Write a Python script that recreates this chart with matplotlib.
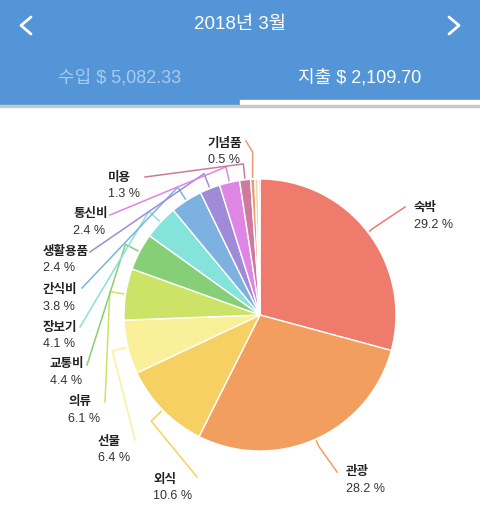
import matplotlib
matplotlib.use('Agg')
import matplotlib.pyplot as plt
import numpy as np

plt.rcParams['font.family'] = ['Liberation Sans', 'Noto Sans CJK KR', 'DejaVu Sans']

# data
title = '2018년 3월'
income_label = '수입 $ 5,082.33'
expense_label = '지출 $ 2,109.70'
categories = ['숙박', '관광', '외식', '선물', '의류', '교통비', '장보기', '간식비',
              '생활용품', '통신비', '미용', '기념품', '', '']
shares = [29.2, 28.2, 10.6, 6.4, 6.1, 4.4, 4.1, 3.8, 2.4, 2.4, 1.3, 0.5, 0.4, 0.2]
colors = ['#EF7B6C', '#F19E5E', '#F6D062', '#FAF09A', '#CCE367', '#87CF76',
          '#84E3DA', '#7DB2E0', '#A08BD8', '#DE86E3', '#CD7A9E', '#E99A74',
          '#F6D2B4', '#F0A060']

# layout (pixels): name text anchor, line end, side
label_pos = {
    '숙박': (414, 208, 405, 207, 'l'),
    '관광': (346, 472, 337, 472, 'l'),
    '외식': (153, 479, 197, 477, 'r'),
    '선물': (98, 441, 135, 440, 'r'),
    '의류': (68, 402, 105, 402, 'r'),
    '교통비': (50, 364, 87, 365, 'r'),
    '장보기': (43, 327, 80, 327, 'r'),
    '간식비': (43, 290, 82, 288, 'r'),
    '생활용품': (43, 251, 90, 252, 'r'),
    '통신비': (73, 214, 110, 215, 'r'),
    '미용': (108, 177, 145, 177, 'r'),
    '기념품': (208, 143, 246, 141, 'r'),
}

W, H = 480, 515
fig = plt.figure(figsize=(W / 100, H / 100), dpi=100)
ax = fig.add_axes([0, 0, 1, 1])

cx, cy, r = 260, 315, 136
wedges, _ = ax.pie(shares, colors=colors, startangle=270, counterclock=True,
                   center=(cx, cy), radius=r,
                   wedgeprops=dict(edgecolor='white', linewidth=1.0))
ax.set_xlim(0, W)
ax.set_ylim(H, 0)
ax.set_aspect('auto')
ax.axis('off')

# header
ax.add_patch(plt.Rectangle((0, 0), W, 105, color='#5395D7', zorder=5))
ax.add_patch(plt.Rectangle((240, 100), 240, 5, color='white', zorder=6))
ax.add_patch(plt.Rectangle((0, 105), W, 1.5, color='#C9C9C9', zorder=6))
ax.text(240, 25, title, color='white', fontsize=13.5, ha='center', va='center', zorder=7)
ax.plot([31, 21, 31], [17, 25.5, 34], color='white', lw=2, zorder=7, solid_capstyle='round')
ax.plot([449, 459, 449], [17, 25.5, 34], color='white', lw=2, zorder=7, solid_capstyle='round')
ax.text(120, 78, income_label, color='#A9CBF0', fontsize=13, ha='center', va='center', zorder=7)
ax.text(360, 78, expense_label, color='white', fontsize=13, ha='center', va='center', zorder=7)

# labels and leader lines
cum = np.cumsum([0] + shares[:-1])
for name, s, c0, col in zip(categories, shares, cum, colors):
    if name not in label_pos:
        continue
    tx, ty, ex, ey, side = label_pos[name]
    th = np.deg2rad((c0 + s / 2) / 100 * 360)
    ux, uy = np.sin(th), -np.cos(th)
    p0 = (cx + (r + 2) * ux, cy + (r + 2) * uy)
    ext = 8 if side == 'l' else 16
    if name == '기념품':
        p1 = (p0[0], 152)
    else:
        p1 = (cx + (r + ext) * ux, cy + (r + ext) * uy)
    ax.plot([p0[0], p1[0], ex], [p0[1], p1[1], ey], color=col, lw=1.1)
    ax.text(tx, ty, name, fontsize=9, fontweight='bold', color='#222222',
            family=['Noto Sans CJK KR'], ha='left', va='center')
    ax.text(tx, ty + 17, '%.1f %%' % s, fontsize=9, color='#333333',
            ha='left', va='center')

fig.savefig('out.png', dpi=100)
